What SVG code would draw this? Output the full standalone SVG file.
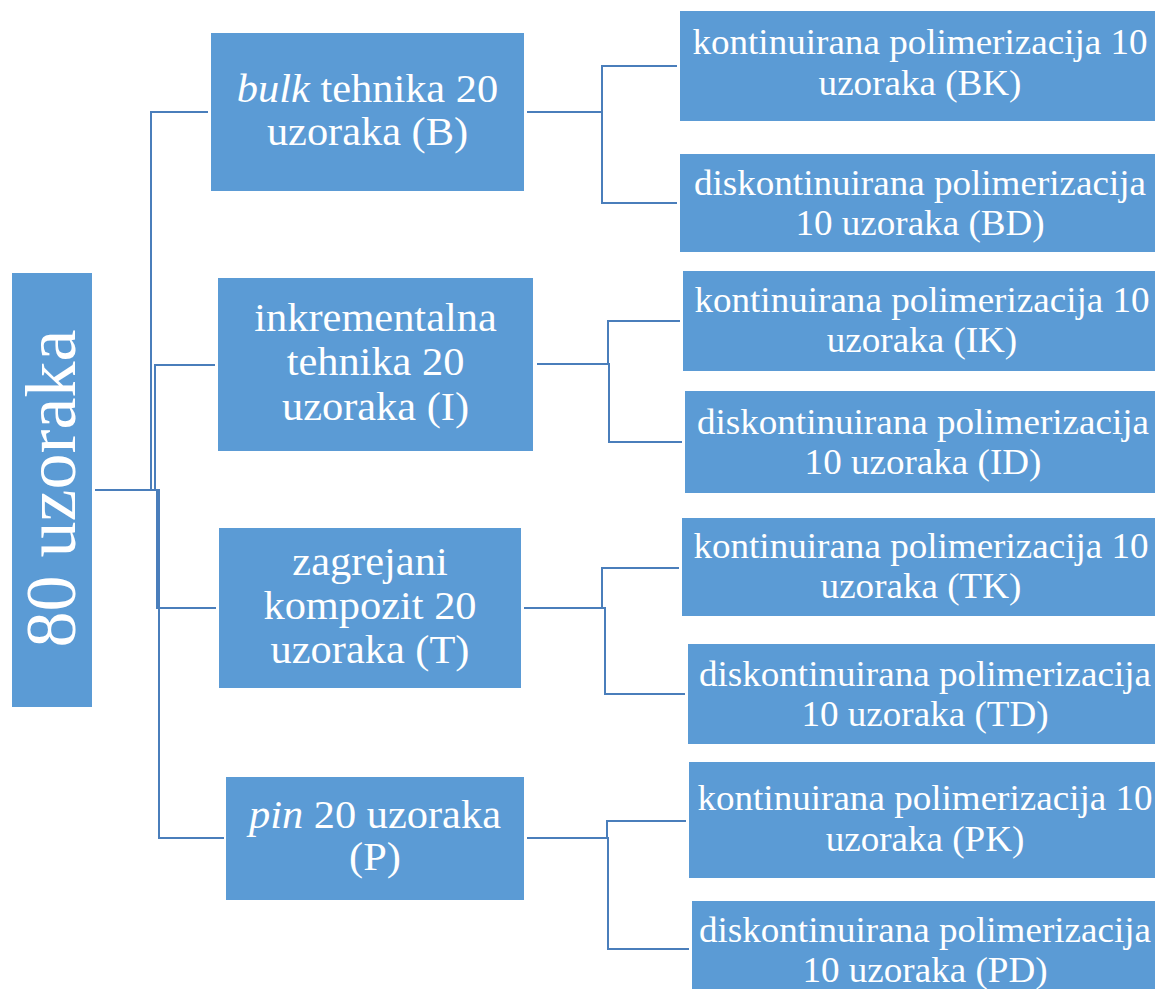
<svg xmlns="http://www.w3.org/2000/svg" width="1155" height="989" viewBox="0 0 1155 989">
<style>
.box{fill:#5b9bd5}
.t{fill:#fff;text-anchor:middle}
.l1{font-size:40px}
.l2{font-size:35px}
.root{font-size:72px}
.c{fill:none;stroke:#4a7ebb;stroke-width:2}
</style>
<rect width="1155" height="989" fill="#fff"/>
<g id="connectors">
<path class="c" d="M95,490 H151 V112 H208"/>
<path class="c" d="M95,490 H155 V365 H215"/>
<path class="c" d="M95,490 H157 V608 H216"/>
<path class="c" d="M95,490 H159 V838 H224"/>
<path class="c" d="M527,112 H602 V66 H677"/>
<path class="c" d="M527,112 H602 V203 H677"/>
<path class="c" d="M537,364 H608 V321 H680"/>
<path class="c" d="M537,364 H609 V442 H682"/>
<path class="c" d="M524,608 H602 V568 H679"/>
<path class="c" d="M524,608 H605 V694 H685"/>
<path class="c" d="M527,838 H607 V821 H686"/>
<path class="c" d="M527,838 H608 V949 H689"/>
</g>
<g font-family="Liberation Serif, serif">
<g id="root">
<rect class="box" x="12" y="273" width="80" height="434"/>
<text class="t root" transform="translate(75,488.5) rotate(-90)">80 uzoraka</text>
</g>
<g id="B">
<rect class="box" x="211" y="33" width="313" height="158"/>
<g transform="translate(367.5,0) scale(1.06,1)">
<text class="t l1" x="0" y="102"><tspan font-style="italic">bulk</tspan> tehnika 20</text>
<text class="t l1" x="0" y="145">uzoraka (B)</text>
</g>
</g>
<g id="I">
<rect class="box" x="218" y="278" width="315" height="173"/>
<g transform="translate(375.5,0) scale(1.06,1)">
<text class="t l1" x="0" y="331">inkrementalna</text>
<text class="t l1" x="0" y="375">tehnika 20</text>
<text class="t l1" x="0" y="420">uzoraka (I)</text>
</g>
</g>
<g id="T">
<rect class="box" x="219" y="528" width="302" height="160"/>
<g transform="translate(370,0) scale(1.06,1)">
<text class="t l1" x="0" y="575">zagrejani</text>
<text class="t l1" x="0" y="619">kompozit 20</text>
<text class="t l1" x="0" y="663">uzoraka (T)</text>
</g>
</g>
<g id="P">
<rect class="box" x="226" y="777" width="298" height="123"/>
<g transform="translate(375,0) scale(1.06,1)">
<text class="t l1" x="0" y="828"><tspan font-style="italic">pin</tspan> 20 uzoraka</text>
<text class="t l1" x="0" y="870">(P)</text>
</g>
</g>
<g id="BK">
<rect class="box" x="680" y="11" width="480" height="110"/>
<g transform="translate(920,0) scale(1.06,1)">
<text class="t l2" x="0" y="54">kontinuirana polimerizacija 10</text>
<text class="t l2" x="0" y="95">uzoraka (BK)</text>
</g>
</g>
<g id="BD">
<rect class="box" x="680" y="154" width="480" height="98"/>
<g transform="translate(920,0) scale(1.06,1)">
<text class="t l2" x="0" y="195">diskontinuirana polimerizacija</text>
<text class="t l2" x="0" y="235">10 uzoraka (BD)</text>
</g>
</g>
<g id="IK">
<rect class="box" x="683" y="271" width="477" height="100"/>
<g transform="translate(922,0) scale(1.06,1)">
<text class="t l2" x="0" y="312">kontinuirana polimerizacija 10</text>
<text class="t l2" x="0" y="352">uzoraka (IK)</text>
</g>
</g>
<g id="ID">
<rect class="box" x="685" y="391" width="475" height="102"/>
<g transform="translate(923,0) scale(1.06,1)">
<text class="t l2" x="0" y="434">diskontinuirana polimerizacija</text>
<text class="t l2" x="0" y="474">10 uzoraka (ID)</text>
</g>
</g>
<g id="TK">
<rect class="box" x="682" y="518" width="478" height="98"/>
<g transform="translate(921,0) scale(1.06,1)">
<text class="t l2" x="0" y="558">kontinuirana polimerizacija 10</text>
<text class="t l2" x="0" y="598">uzoraka (TK)</text>
</g>
</g>
<g id="TD">
<rect class="box" x="688" y="644" width="472" height="100"/>
<g transform="translate(925,0) scale(1.06,1)">
<text class="t l2" x="0" y="686">diskontinuirana polimerizacija</text>
<text class="t l2" x="0" y="726">10 uzoraka (TD)</text>
</g>
</g>
<g id="PK">
<rect class="box" x="689" y="762" width="471" height="116"/>
<g transform="translate(925,0) scale(1.06,1)">
<text class="t l2" x="0" y="810">kontinuirana polimerizacija 10</text>
<text class="t l2" x="0" y="851">uzoraka (PK)</text>
</g>
</g>
<g id="PD">
<rect class="box" x="692" y="901" width="468" height="100"/>
<g transform="translate(925,0) scale(1.06,1)">
<text class="t l2" x="0" y="942">diskontinuirana polimerizacija</text>
<text class="t l2" x="0" y="982">10 uzoraka (PD)</text>
</g>
</g>
</g>
</svg>
